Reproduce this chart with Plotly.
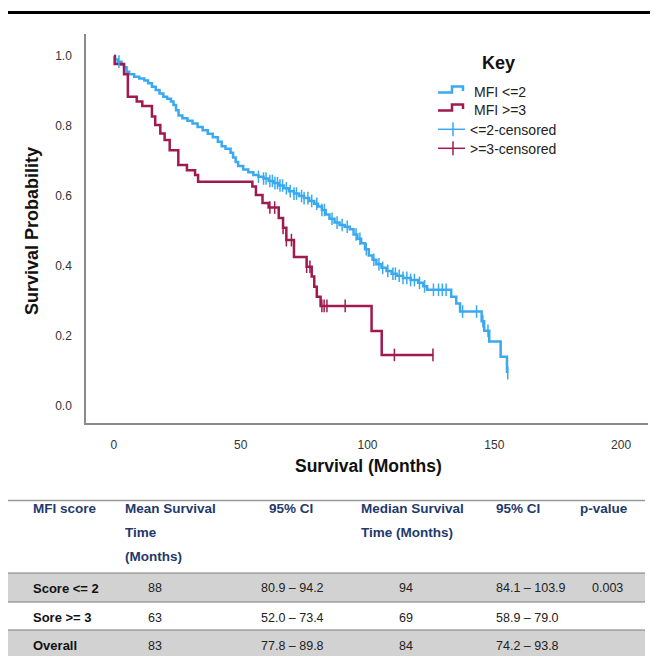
import plotly.graph_objects as go

# page offset (browser body margin) compensated: figure drawn 8px in from top-left
OFF = 8
W, H = 658 - OFF, 656 - OFF

# ---------------- data ----------------
blue_t = [0, 0.5, 1.5, 3, 4, 5, 6, 8, 10, 12, 13.5, 15, 16.5, 18, 19.5, 21, 22.5, 23.5, 24.5, 25.5,
          27, 29, 31, 33, 35, 37, 39, 41, 42.5, 44, 46, 47, 48, 49, 51, 53, 55, 57, 59, 61,
          63, 65, 67, 69, 71, 73, 75, 77, 79, 80.5, 82, 83.5, 85, 87, 89, 91, 93, 94.5, 96, 97.5,
          99, 100.5, 102, 103.5, 105.5, 107.5, 109.5, 111.5, 114, 117, 120, 122, 123.5, 133, 135,
          136.5, 145, 146, 148, 152.5, 155]
blue_s = [1.0, 0.99, 0.984, 0.975, 0.968, 0.955, 0.948, 0.941, 0.936, 0.93, 0.922, 0.912, 0.903,
          0.893, 0.884, 0.878, 0.87, 0.86, 0.845, 0.83, 0.822, 0.815, 0.807, 0.797, 0.788, 0.778,
          0.768, 0.755, 0.742, 0.735, 0.724, 0.71, 0.697, 0.686, 0.676, 0.668, 0.66, 0.655, 0.65,
          0.643, 0.637, 0.63, 0.622, 0.614, 0.607, 0.6, 0.594, 0.586, 0.578, 0.57, 0.56, 0.547,
          0.535, 0.524, 0.517, 0.512, 0.505, 0.49, 0.478, 0.465, 0.448, 0.43, 0.418, 0.405, 0.395,
          0.386, 0.378, 0.372, 0.366, 0.36, 0.352, 0.342, 0.332, 0.312, 0.293, 0.27, 0.242, 0.215,
          0.184, 0.141, 0.094]
blue_cens = [2, 57, 59, 60, 61.5, 62.5, 63.5, 64.5, 65.5, 66.5, 68, 69.5, 71, 72, 74, 75, 76.5,
             78, 80, 82, 83, 86, 88, 90, 92, 95.5, 97, 99.5, 102.5, 104.5, 106, 108, 110, 111,
             112.5, 114, 115.5, 117, 118.5, 120.5, 122.5, 126, 128, 129.5, 131, 137.5, 143,
             145.5, 147.5, 155.3]

red_t = [0, 0.3, 4, 5.5, 9, 11.2, 15, 16.3, 18.3, 20, 22, 25.4, 28.8, 32, 33.2, 54.6, 56, 58.6,
         61, 65, 66.7, 68, 71, 76, 78, 79, 80, 81.5, 101.6, 105.6, 126]
red_s = [1.0, 0.977, 0.948, 0.884, 0.87, 0.857, 0.827, 0.803, 0.779, 0.76, 0.731, 0.689, 0.674,
         0.66, 0.641, 0.627, 0.603, 0.58, 0.567, 0.537, 0.509, 0.474, 0.426, 0.398, 0.37, 0.341,
         0.312, 0.286, 0.214, 0.146, 0.146]
red_cens = [61.5, 63.4, 66.7, 68, 70, 76, 77.3, 82, 82.9, 84, 91.2, 110.6, 125.8]

x_ticks = [0, 50, 100, 150, 200]
y_ticks = [0.0, 0.2, 0.4, 0.6, 0.8, 1.0]

legend_labels = ["MFI <=2", "MFI >=3", "<=2-censored", ">=3-censored"]

header_cols = [["MFI score"], ["Mean Survival", "Time", "(Months)"], ["95% CI"],
               ["Median Survival", "Time (Months)"], ["95% CI"], ["p-value"]]
row_labels = ["Score <= 2", "Sore >= 3", "Overall"]
mean_time = ["88", "63", "83"]
mean_ci = ["80.9 – 94.2", "52.0 – 73.4", "77.8 – 89.8"]
median_time = ["94", "69", "84"]
median_ci = ["84.1 – 103.9", "58.9 – 79.0", "74.2 – 93.8"]
p_values = ["0.003", "", ""]

BLUE = "#3aa9ef"
RED = "#a11a4f"
NAVY = "#1f3a6b"
FONT = "Liberation Sans, Arial, sans-serif"


def step_val(ts, ss, t):
    v = ss[0]
    for ti, si in zip(ts, ss):
        if ti <= t:
            v = si
        else:
            break
    return v


def PX(x):
    return (x - OFF) / W


def PY(y):
    return 1 - (y - OFF) / H


fig = go.Figure()
fig.add_trace(go.Scatter(x=blue_t, y=blue_s, mode="lines", line=dict(color=BLUE, width=2.5, shape="hv"),
                         showlegend=False, hoverinfo="skip"))
fig.add_trace(go.Scatter(x=red_t, y=red_s, mode="lines", line=dict(color=RED, width=2.5, shape="hv"),
                         showlegend=False, hoverinfo="skip"))
fig.add_trace(go.Scatter(x=blue_cens, y=[step_val(blue_t, blue_s, t) for t in blue_cens], mode="markers",
                         marker=dict(symbol="line-ns", size=9, line=dict(color=BLUE, width=1.5)),
                         showlegend=False, hoverinfo="skip"))
fig.add_trace(go.Scatter(x=red_cens, y=[step_val(red_t, red_s, t) for t in red_cens], mode="markers",
                         marker=dict(symbol="line-ns", size=9, line=dict(color=RED, width=1.5)),
                         showlegend=False, hoverinfo="skip"))

shapes = []
annotations = []

# top black rule
shapes.append(dict(type="line", xref="paper", yref="paper", x0=PX(8), x1=PX(658), y0=PY(12.5), y1=PY(12.5),
                   line=dict(color="black", width=3)))

# legend
annotations.append(dict(xref="paper", yref="paper", x=PX(498), y=PY(63), text="<b>Key</b>", showarrow=False,
                        font=dict(family=FONT, size=18, color="#111"), xanchor="center", yanchor="middle"))
leg_y = [(92.5, 86.5), (110.5, 104.5)]
for (ylo, yhi), col in zip(leg_y, [BLUE, RED]):
    path = f"M {PX(438)},{PY(ylo)} L {PX(452)},{PY(ylo)} L {PX(452)},{PY(yhi)} L {PX(463)},{PY(yhi)} L {PX(463)},{PY(yhi+4.5)}"
    shapes.append(dict(type="path", xref="paper", yref="paper", path=path, line=dict(color=col, width=2.5)))
for yc, col in zip([129.3, 148.3], [BLUE, RED]):
    shapes.append(dict(type="line", xref="paper", yref="paper", x0=PX(438), x1=PX(465), y0=PY(yc), y1=PY(yc),
                       line=dict(color=col, width=1.5)))
    shapes.append(dict(type="line", xref="paper", yref="paper", x0=PX(453), x1=PX(453), y0=PY(yc - 7), y1=PY(yc + 7),
                       line=dict(color=col, width=1.5)))
for lab, xl, yc in zip(legend_labels, [472, 472, 468, 468], [92, 110, 129.5, 148.5]):
    annotations.append(dict(xref="paper", yref="paper", x=PX(xl), y=PY(yc), text=lab, showarrow=False,
                            font=dict(family=FONT, size=14, color="#222"), xanchor="left", yanchor="middle"))

# axis titles
annotations.append(dict(xref="paper", yref="paper", x=PX(368), y=PY(466), text="<b>Survival (Months)</b>",
                        showarrow=False, font=dict(family=FONT, size=17.5, color="#111"),
                        xanchor="center", yanchor="middle"))
annotations.append(dict(xref="paper", yref="paper", x=PX(32), y=PY(231), text="<b>Survival Probability</b>",
                        showarrow=False, textangle=-90, font=dict(family=FONT, size=18, color="#111"),
                        xanchor="center", yanchor="middle"))

# table
shapes.append(dict(type="rect", xref="paper", yref="paper", x0=PX(8), x1=PX(645), y0=PY(573), y1=PY(602),
                   fillcolor="#d2d2d2", line=dict(width=0), layer="below"))
shapes.append(dict(type="rect", xref="paper", yref="paper", x0=PX(8), x1=PX(645), y0=PY(630), y1=PY(656),
                   fillcolor="#d2d2d2", line=dict(width=0), layer="below"))
shapes.append(dict(type="line", xref="paper", yref="paper", x0=PX(8), x1=PX(645), y0=PY(500.5), y1=PY(500.5),
                   line=dict(color="#9a9a9a", width=1.5)))
for yl in [573, 602, 630]:
    shapes.append(dict(type="line", xref="paper", yref="paper", x0=PX(8), x1=PX(645), y0=PY(yl), y1=PY(yl),
                       line=dict(color="#7a7a7a", width=1)))

col_x = [31, 123, 267, 359, 494, 578]
line_y = [508.5, 532.5, 556.5]
for cx, lines in zip(col_x, header_cols):
    for ly, txt in zip(line_y, lines):
        annotations.append(dict(xref="paper", yref="paper", x=PX(cx), y=PY(ly), text=f"<b>{txt}</b>",
                                showarrow=False, font=dict(family=FONT, size=13.5, color=NAVY),
                                xanchor="left", yanchor="middle"))

row_y = [588, 617.5, 645.5]
for i, ry in enumerate(row_y):
    annotations.append(dict(xref="paper", yref="paper", x=PX(31), y=PY(ry), text=f"<b>{row_labels[i]}</b>",
                            showarrow=False, font=dict(family=FONT, size=13, color="#111"),
                            xanchor="left", yanchor="middle"))
    for txt, cx, anc in [(mean_time[i], 155, "center"), (mean_ci[i], 259, "left"),
                         (median_time[i], 406, "center"), (median_ci[i], 494, "left"),
                         (p_values[i], 607, "center")]:
        if txt:
            annotations.append(dict(xref="paper", yref="paper", x=PX(cx), y=PY(ry), text=txt,
                                    showarrow=False, font=dict(family=FONT, size=12.5, color="#222"),
                                    xanchor=anc, yanchor="middle"))

x_left, x_right = 86, 648
y_top, y_bot = 34, 423
fig.update_layout(
    width=W, height=H,
    margin=dict(l=0, r=0, t=0, b=0),
    paper_bgcolor="white", plot_bgcolor="white",
    showlegend=False,
    shapes=shapes, annotations=annotations,
    xaxis=dict(domain=[(x_left - OFF) / W, (x_right - OFF) / W], range=[-11.0, 210.6], tickvals=x_ticks,
               showgrid=False, zeroline=False, showline=True, linecolor="#8a8a8a", linewidth=1.5,
               ticks="", ticklabelstandoff=10, tickfont=dict(family=FONT, size=12, color="#333")),
    yaxis=dict(domain=[1 - (y_bot - OFF) / H, 1 - (y_top - OFF) / H], range=[-0.0486, 1.063], tickvals=y_ticks,
               tickformat=".1f", showgrid=False, zeroline=False, showline=True, linecolor="#8a8a8a",
               linewidth=1.5, ticks="", ticklabelstandoff=10,
               tickfont=dict(family=FONT, size=12, color="#333")),
)

fig.write_html("out.html")
